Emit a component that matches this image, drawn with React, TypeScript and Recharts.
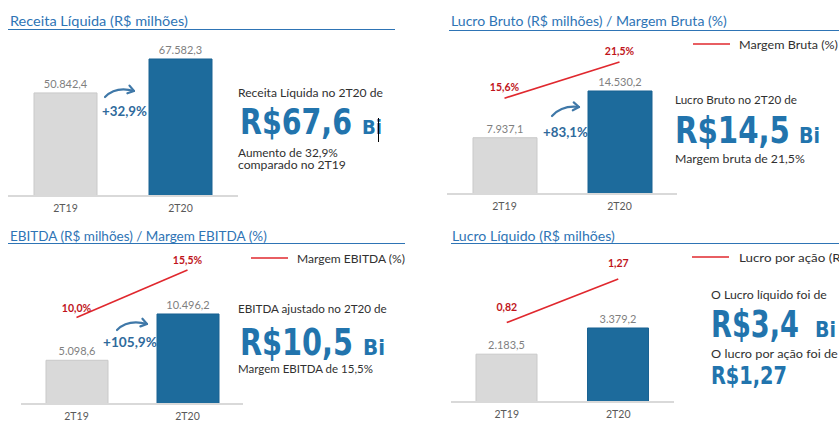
import React, { useLayoutEffect, useRef, useState } from 'react';
import { ComposedChart, Bar, Line, XAxis, YAxis, Cell, LabelList } from 'recharts';

const periods = ['2T19', '2T20'];

const receita = [50842.4, 67582.3];
const receitaLabels = ['50.842,4', '67.582,3'];

const lucroBruto = [7937.1, 14530.2];
const lucroBrutoLabels = ['7.937,1', '14.530,2'];
const margemBruta = [15.6, 21.5];
const margemBrutaLabels = ['15,6%', '21,5%'];

const ebitda = [5098.6, 10496.2];
const ebitdaLabels = ['5.098,6', '10.496,2'];
const margemEbitda = [10.0, 15.5];
const margemEbitdaLabels = ['10,0%', '15,5%'];

const lucroLiquido = [2183.5, 3379.2];
const lucroLiquidoLabels = ['2.183,5', '3.379,2'];
const lucroPorAcao = [0.82, 1.27];
const lucroPorAcaoLabels = ['0,82', '1,27'];

const BAR_COLORS = ['#d9d9d9', '#1d6b9c'];
const BAR_STROKES = ['#c9c9c9', '#1a6292'];
const TITLE_BLUE = '#2e74b5';
const BIG_BLUE = '#2274ad';
const RED = '#e0282e';
const LABEL_RED = '#c0141b';
const TEXT = '#303030';

const FONT = "Lato, 'DejaVu Sans', sans-serif";
const NARROW = "'DejaVu Sans Condensed', 'DejaVu Sans', sans-serif";

const buildData = (bars: number[], barLabels: string[], line?: number[], lineLabels?: string[]) =>
  periods.map((period, i) => ({
    period,
    bar: bars[i],
    barLabel: barLabels[i],
    line: line ? line[i] : undefined,
    lineLabel: lineLabels ? lineLabels[i] : undefined,
  }));

interface PanelProps {
  left: number;
  top: number;
  width: number;
  plotHeight: number;
  data: any[];
  barMax: number;
  lineMax?: number;
  barSize: number;
  lineOffset?: number;
}

const Panel = ({ left, top, width, plotHeight, data, barMax, lineMax, barSize, lineOffset = 7 }: PanelProps) => (
  <div style={{ position: 'absolute', left, top }}>
    <ComposedChart width={width} height={plotHeight + 25} data={data} margin={{ top: 0, right: 0, bottom: 0, left: 0 }}>
      <XAxis
        dataKey="period"
        height={25}
        tickLine={false}
        tickSize={0}
        tickMargin={9}
        axisLine={{ stroke: '#d9d9d9', strokeWidth: 2 }}
        tick={{ fill: '#595959', fontSize: 10.5, fontFamily: FONT }}
      />
      <YAxis yAxisId="left" hide domain={[0, barMax]} />
      <YAxis yAxisId="right" hide orientation="right" domain={[0, lineMax || 1]} />
      <Bar yAxisId="left" dataKey="bar" barSize={barSize} isAnimationActive={false}>
        {data.map((_, i) => (
          <Cell key={i} fill={BAR_COLORS[i]} stroke={BAR_STROKES[i]} strokeWidth={1} />
        ))}
        <LabelList dataKey="barLabel" position="top" offset={5} fill="#7f7f7f" fontSize={11} fontFamily={FONT} />
      </Bar>
      {lineMax ? (
        <Line yAxisId="right" dataKey="line" stroke={RED} strokeWidth={1.6} dot={false} isAnimationActive={false}>
          <LabelList dataKey="lineLabel" position="top" offset={lineOffset} fill={LABEL_RED} fontSize={10.5} fontWeight="bold" fontFamily={FONT} />
        </Line>
      ) : null}
    </ComposedChart>
  </div>
);

// text squeezed horizontally to a target width (w), measured after mount
const T = ({ x, y, size, w, color = TEXT, weight = 'normal', family = FONT, children }: any) => {
  const ref = useRef<SVGTextElement>(null);
  const [s, setS] = useState(1);
  useLayoutEffect(() => {
    if (ref.current && w) {
      const n = ref.current.getComputedTextLength();
      if (n > 0) setS(w / n);
    }
  }, [w]);
  return (
    <g transform={`translate(${x},${y}) scale(${s},1)`}>
      <text ref={ref} x={0} y={0} fontSize={size} fill={color} fontWeight={weight} fontFamily={family}>
        {children}
      </text>
    </g>
  );
};

const Arrow = ({ x1, y1, cx, cy, x2, y2 }: any) => {
  const a = Math.atan2(y2 - cy, x2 - cx);
  const h = 7;
  const p1 = [x2 - h * Math.cos(a - 0.6), y2 - h * Math.sin(a - 0.6)];
  const p2 = [x2 - h * Math.cos(a + 0.6), y2 - h * Math.sin(a + 0.6)];
  return (
    <g stroke="#3f78a8" strokeWidth={2.2} fill="none" strokeLinecap="round" strokeLinejoin="round">
      <path d={`M${x1} ${y1} Q${cx} ${cy} ${x2} ${y2}`} />
      <path d={`M${p1[0]} ${p1[1]} L${x2} ${y2} L${p2[0]} ${p2[1]}`} />
    </g>
  );
};

const Overlay = () => (
  <svg width={839} height={421} style={{ position: 'absolute', left: 0, top: 0, pointerEvents: 'none' }}>
    {/* titles */}
    <T x={10} y={26} size={14} w={178} color={TITLE_BLUE}>Receita Líquida (R$ milhões)</T>
    <line x1={8} x2={395} y1={29.5} y2={29.5} stroke={TITLE_BLUE} strokeWidth={1} />
    <T x={451} y={26} size={14} w={276} color={TITLE_BLUE}>Lucro Bruto (R$ milhões) / Margem Bruta (%)</T>
    <line x1={449} x2={839} y1={30.5} y2={30.5} stroke={TITLE_BLUE} strokeWidth={1} />
    <T x={10} y={241} size={14} w={257} color={TITLE_BLUE}>EBITDA (R$ milhões) / Margem EBITDA (%)</T>
    <line x1={8} x2={405} y1={243.5} y2={243.5} stroke={TITLE_BLUE} strokeWidth={1} />
    <T x={452} y={241} size={14} w={163} color={TITLE_BLUE}>Lucro Líquido (R$ milhões)</T>
    <line x1={451} x2={839} y1={243.5} y2={243.5} stroke={TITLE_BLUE} strokeWidth={1} />

    {/* legends */}
    <line x1={693} x2={730} y1={44} y2={44} stroke={RED} strokeWidth={1.5} />
    <T x={739} y={49} size={10.5} w={99}>Margem Bruta (%)</T>
    <line x1={251} x2={288} y1={258} y2={258} stroke={RED} strokeWidth={1.5} />
    <T x={297} y={263} size={10.5} w={108}>Margem EBITDA (%)</T>
    <line x1={692} x2={729} y1={257} y2={257} stroke={RED} strokeWidth={1.5} />
    <T x={739} y={262} size={10.5} w={113}>Lucro por ação (R$)</T>

    {/* growth arrows */}
    <Arrow x1={105} y1={97} cx={116} cy={86} x2={134} y2={91} />
    <T x={102} y={116} size={13} w={45} weight="bold" color="#2f6a9c">+32,9%</T>
    <Arrow x1={552} y1={116} cx={562} cy={105} x2={579} y2={107} />
    <T x={543} y={137} size={13} w={45} weight="bold" color="#2f6a9c">+83,1%</T>
    <Arrow x1={117} y1={330} cx={128} cy={319} x2={147} y2={324} />
    <T x={103} y={347} size={13} w={54} weight="bold" color="#2f6a9c">+105,9%</T>

    {/* panel 1 summary */}
    <T x={238} y={97} size={11} w={145}>Receita Líquida no 2T20 de</T>
    <T x={240} y={134} size={36} w={112} weight="bold" family={NARROW} color={BIG_BLUE}>R$67,6</T>
    <T x={362} y={134} size={20} w={20} weight="bold" family={NARROW} color={BIG_BLUE}>Bi</T>
    <line x1={378.5} x2={378.5} y1={118} y2={142} stroke="#000" strokeWidth={1} />
    <T x={238} y={157} size={11} w={100}>Aumento de 32,9%</T>
    <T x={238} y={169} size={11} w={108}>comparado no 2T19</T>

    {/* panel 2 summary */}
    <T x={675} y={104} size={11} w={122}>Lucro Bruto no 2T20 de</T>
    <T x={675} y={143} size={38} w={115} weight="bold" family={NARROW} color={BIG_BLUE}>R$14,5</T>
    <T x={799} y={143} size={21} w={21} weight="bold" family={NARROW} color={BIG_BLUE}>Bi</T>
    <T x={675} y={163} size={11} w={130}>Margem bruta de 21,5%</T>

    {/* panel 3 summary */}
    <T x={238} y={313} size={11} w={149}>EBITDA ajustado no 2T20 de</T>
    <T x={240} y={355} size={38} w={113} weight="bold" family={NARROW} color={BIG_BLUE}>R$10,5</T>
    <T x={363} y={355} size={21} w={22} weight="bold" family={NARROW} color={BIG_BLUE}>Bi</T>
    <T x={238} y={373} size={11} w={135}>Margem EBITDA de 15,5%</T>

    {/* panel 4 summary */}
    <T x={711} y={299} size={11} w={116}>O Lucro líquido foi de</T>
    <T x={711} y={337} size={37} w={88} weight="bold" family={NARROW} color={BIG_BLUE}>R$3,4</T>
    <T x={815} y={337} size={21} w={21} weight="bold" family={NARROW} color={BIG_BLUE}>Bi</T>
    <T x={711} y={358} size={11} w={127}>O lucro por ação foi de</T>
    <T x={711} y={384} size={24} w={76} weight="bold" family={NARROW} color={BIG_BLUE}>R$1,27</T>
  </svg>
);

export default function App() {
  return (
    <div style={{ position: 'absolute', left: 0, top: 0, width: 839, height: 421, overflow: 'hidden', background: '#fff' }}>
      <Panel left={8} top={30} width={230} plotHeight={166} barSize={63} barMax={81888}
        data={buildData(receita, receitaLabels)} />
      <Panel left={447} top={30} width={230} plotHeight={164} barSize={64} barMax={23135} lineMax={26.7}
        data={buildData(lucroBruto, lucroBrutoLabels, margemBruta, margemBrutaLabels)} />
      <Panel left={21} top={250} width={222} plotHeight={154} barSize={62} barMax={17960} lineMax={17.81} lineOffset={6}
        data={buildData(ebitda, ebitdaLabels, margemEbitda, margemEbitdaLabels)} />
      <Panel left={451} top={250} width={223} plotHeight={152} barSize={61} barMax={6941} lineMax={1.569} lineOffset={12}
        data={buildData(lucroLiquido, lucroLiquidoLabels, lucroPorAcao, lucroPorAcaoLabels)} />
      <Overlay />
    </div>
  );
}
